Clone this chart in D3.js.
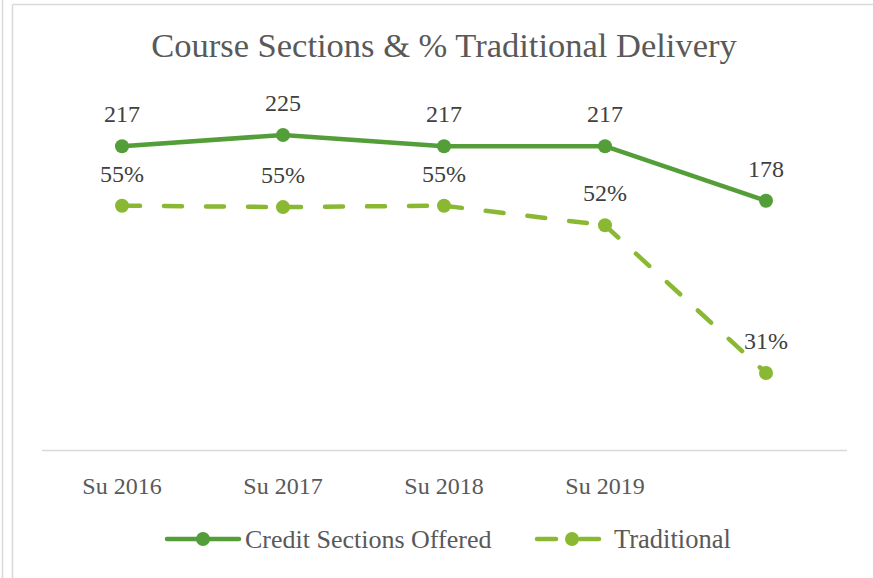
<!DOCTYPE html>
<html>
<head>
<meta charset="utf-8">
<script src="https://cdn.jsdelivr.net/npm/d3@7"></script>
<style>
  html, body { margin: 0; padding: 0; background: #fff; }
  svg { display: block; }
  text { font-family: "Liberation Serif", "Times New Roman", serif; }
</style>
</head>
<body>
<script>
const categories = ["Su 2016", "Su 2017", "Su 2018", "Su 2019", ""];
const creditSections = [217, 225, 217, 217, 178];
const traditionalPct = [0.549, 0.547, 0.549, 0.521, 0.31];
const creditLabels = ["217", "225", "217", "217", "178"];
const traditionalLabels = ["55%", "55%", "55%", "52%", "31%"];
const seriesNames = ["Credit Sections Offered", "Traditional"];

const W = 873, H = 578;
const darkGreen = "#549e39", lightGreen = "#8ab833";

const svg = d3.select("body").append("svg").attr("width", W).attr("height", H);

// frame lines
svg.append("line").attr("x1", 2.5).attr("x2", 2.5).attr("y1", 0).attr("y2", H).attr("stroke", "#d9d9d9").attr("stroke-width", 1.5);
svg.append("line").attr("x1", 12.5).attr("x2", 12.5).attr("y1", 4.5).attr("y2", H).attr("stroke", "#d9d9d9").attr("stroke-width", 1.5);
svg.append("line").attr("x1", 12.5).attr("x2", W).attr("y1", 4.5).attr("y2", 4.5).attr("stroke", "#d9d9d9").attr("stroke-width", 1.5);

const x = d3.scaleBand().domain(d3.range(categories.length)).range([41.5, 846.5]);
const xc = i => x(i) + x.bandwidth() / 2;
const y1 = d3.scaleLinear().domain([0, 250]).range([450, 100]);
const y2 = d3.scaleLinear().domain([0.2, 0.7]).range([450, 100]);

// title
svg.append("text").attr("x", 444).attr("y", 57).attr("text-anchor", "middle")
  .attr("font-size", 34.5).attr("fill", "#595959").text("Course Sections & % Traditional Delivery");

// x axis
const axis = svg.append("g").attr("transform", "translate(0,450)")
  .call(d3.axisBottom(x).tickSize(0).tickPadding(0).tickFormat(i => categories[i]));
axis.select(".domain").attr("stroke", "#d9d9d9").attr("stroke-width", 1.5);
axis.selectAll("text").attr("font-family", "Liberation Serif, serif").attr("font-size", 24)
  .attr("fill", "#595959").attr("dy", null).attr("y", 44);

// traditional dashed segments (dash pattern restarts per segment)
for (let i = 0; i < traditionalPct.length - 1; i++) {
  svg.append("line")
    .attr("x1", xc(i)).attr("y1", y2(traditionalPct[i]))
    .attr("x2", xc(i + 1)).attr("y2", y2(traditionalPct[i + 1]))
    .attr("stroke", lightGreen).attr("stroke-width", 4.5)
    .attr("stroke-dasharray", "18,24").attr("stroke-linecap", "round");
}
svg.selectAll(".tdot").data(traditionalPct).join("circle")
  .attr("cx", (d, i) => xc(i)).attr("cy", d => y2(d)).attr("r", 7).attr("fill", lightGreen);

// credit solid line
svg.append("path").datum(creditSections)
  .attr("d", d3.line().x((d, i) => xc(i)).y(d => y1(d)))
  .attr("fill", "none").attr("stroke", darkGreen).attr("stroke-width", 4.5).attr("stroke-linejoin", "round");
svg.selectAll(".cdot").data(creditSections).join("circle")
  .attr("cx", (d, i) => xc(i)).attr("cy", d => y1(d)).attr("r", 7).attr("fill", darkGreen);

// labels
svg.selectAll(".clab").data(creditSections).join("text")
  .attr("x", (d, i) => xc(i)).attr("y", d => y1(d) - 24).attr("text-anchor", "middle")
  .attr("font-size", 24).attr("fill", "#404040").text((d, i) => creditLabels[i]);
svg.selectAll(".tlab").data(traditionalPct).join("text")
  .attr("x", (d, i) => xc(i)).attr("y", d => y2(d) - 24).attr("text-anchor", "middle")
  .attr("font-size", 24).attr("fill", "#404040").text((d, i) => traditionalLabels[i]);

// legend
const lg = svg.append("g");
lg.append("line").attr("x1", 167).attr("x2", 239).attr("y1", 539).attr("y2", 539)
  .attr("stroke", darkGreen).attr("stroke-width", 4.5).attr("stroke-linecap", "round");
lg.append("circle").attr("cx", 203).attr("cy", 539).attr("r", 7).attr("fill", darkGreen);
lg.append("text").attr("x", 245).attr("y", 548).attr("font-size", 26).attr("fill", "#595959").text(seriesNames[0]);
lg.append("line").attr("x1", 537).attr("x2", 556).attr("y1", 539).attr("y2", 539)
  .attr("stroke", lightGreen).attr("stroke-width", 4.5).attr("stroke-linecap", "round");
lg.append("line").attr("x1", 580).attr("x2", 599).attr("y1", 539).attr("y2", 539)
  .attr("stroke", lightGreen).attr("stroke-width", 4.5).attr("stroke-linecap", "round");
lg.append("line").attr("x1", 566).attr("x2", 578).attr("y1", 539).attr("y2", 539)
  .attr("stroke", lightGreen).attr("stroke-width", 4.5);
lg.append("circle").attr("cx", 572).attr("cy", 539).attr("r", 7).attr("fill", lightGreen);
lg.append("text").attr("x", 614).attr("y", 548).attr("font-size", 26.5).attr("fill", "#595959").text(seriesNames[1]);
</script>
</body>
</html>
